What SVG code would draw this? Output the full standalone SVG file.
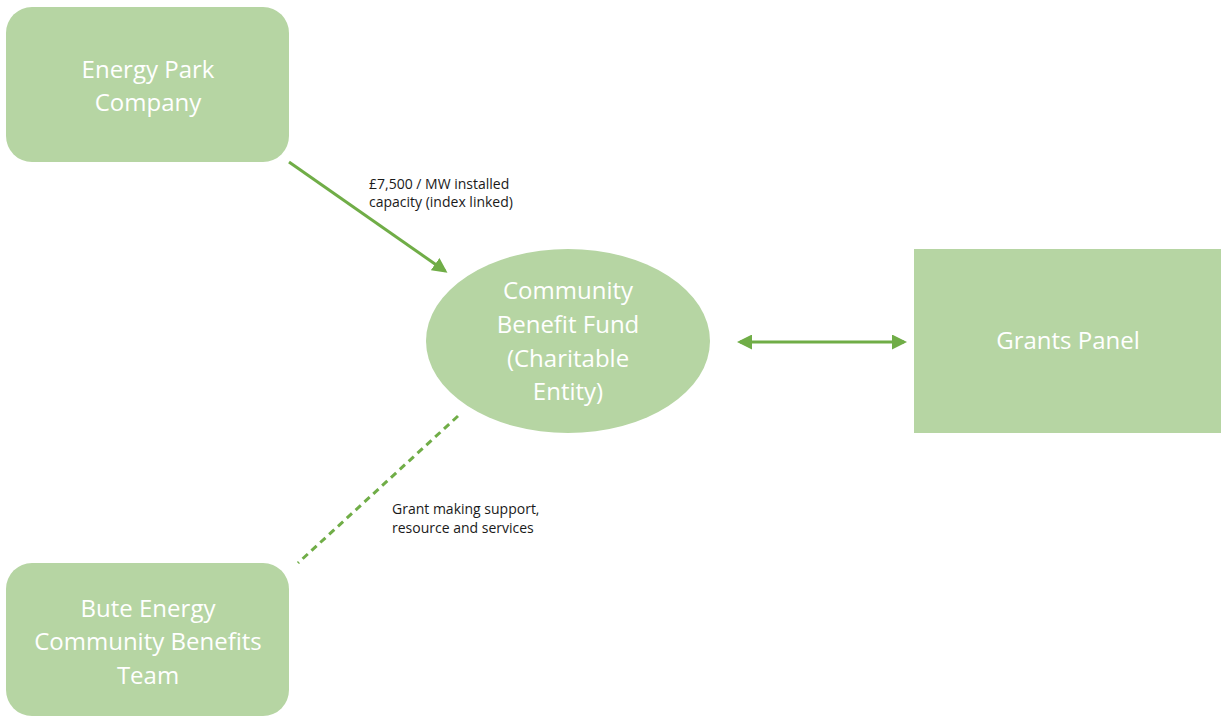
<svg xmlns="http://www.w3.org/2000/svg" width="1221" height="718" viewBox="0 0 1221 718">
<style>
.node{fill:#b6d5a3}
.nt{font-family:"Open Sans","Noto Sans",sans-serif;font-size:24px;fill:#ffffff;text-anchor:middle}
.lb{font-family:"Open Sans","Noto Sans",sans-serif;font-size:14px;fill:#1a1a1a}
.ln{stroke:#70ad47;stroke-width:3;fill:none}
</style>
<defs>
<marker id="ah" markerWidth="5" markerHeight="5" refX="4" refY="2.5" orient="auto-start-reverse" markerUnits="strokeWidth">
<path d="M0,0 L5,2.5 L0,5 z" fill="#70ad47"/>
</marker>
</defs>
<rect width="1221" height="718" fill="#ffffff"/>
<g id="energy-park">
<rect class="node" x="6" y="7" width="283" height="155" rx="26"/>
<text class="nt" x="148" y="78">Energy Park</text>
<text class="nt" x="148" y="111">Company</text>
</g>
<g id="fund">
<ellipse class="node" cx="568" cy="341" rx="142" ry="92"/>
<text class="nt" x="568" y="299">Community</text>
<text class="nt" x="568" y="333">Benefit Fund</text>
<text class="nt" x="568" y="367">(Charitable</text>
<text class="nt" x="568" y="400">Entity)</text>
</g>
<g id="grants-panel">
<rect class="node" x="914" y="249" width="307" height="184"/>
<text class="nt" x="1068" y="349">Grants Panel</text>
</g>
<g id="bute">
<rect class="node" x="6" y="563" width="283" height="153" rx="26"/>
<text class="nt" x="148" y="617">Bute Energy</text>
<text class="nt" x="148" y="650">Community Benefits</text>
<text class="nt" x="148" y="684">Team</text>
</g>
<g id="connectors">
<line class="ln" x1="289" y1="162" x2="445" y2="271" marker-end="url(#ah)"/>
<line class="ln" x1="740" y1="342" x2="904" y2="342" marker-start="url(#ah)" marker-end="url(#ah)"/>
<line class="ln" x1="458" y1="416" x2="298" y2="563" stroke-dasharray="7,5"/>
<text class="lb" x="369" y="189">£7,500 / MW installed</text>
<text class="lb" x="369" y="207">capacity (index linked)</text>
<text class="lb" x="392" y="514">Grant making support,</text>
<text class="lb" x="392" y="533">resource and services</text>
</g>
</svg>
